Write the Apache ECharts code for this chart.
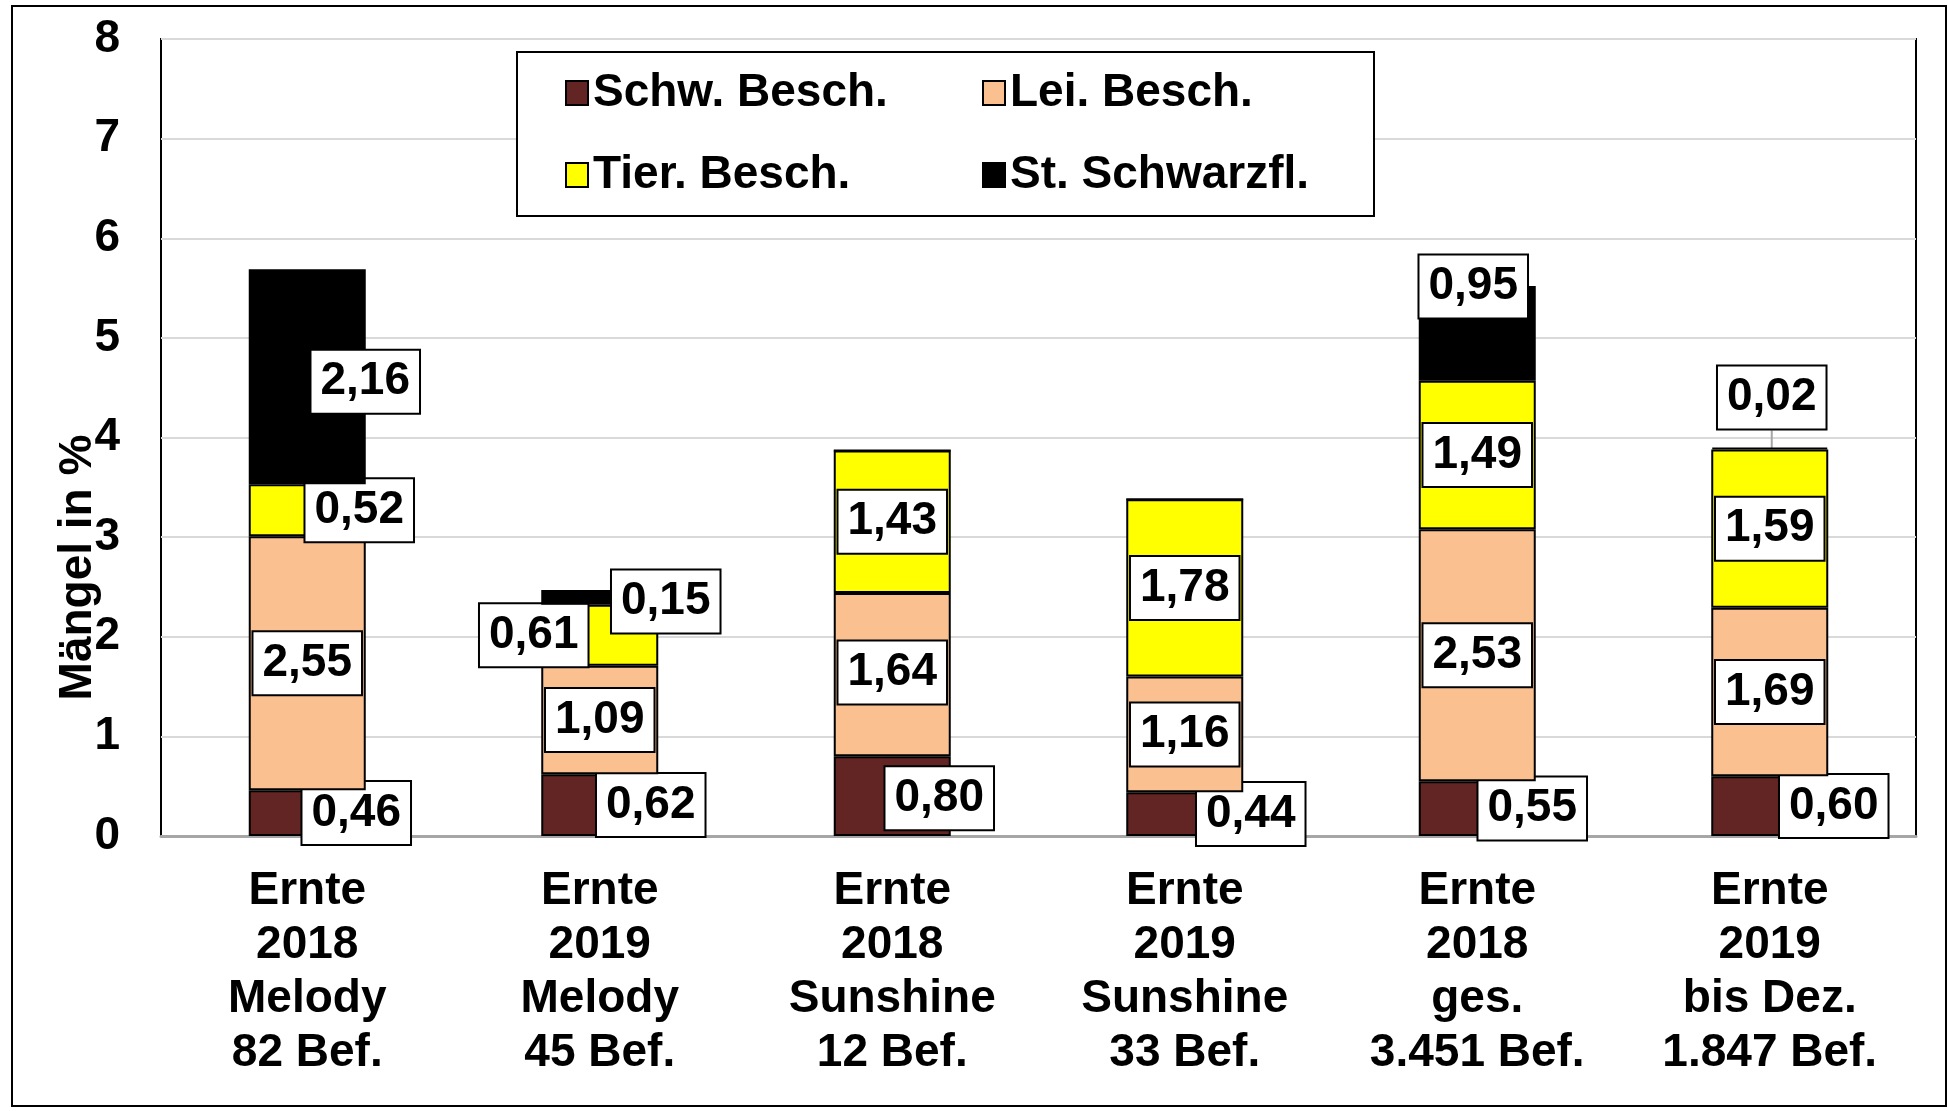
<!DOCTYPE html>
<html>
<head>
<meta charset="utf-8">
<title>Mängel in %</title>
<script src="https://cdn.jsdelivr.net/npm/echarts@6/dist/echarts.min.js"></script>
<style>
  html, body { margin: 0; padding: 0; background: #ffffff; }
  #chart { width: 1948px; height: 1111px; }
  /* äußerer Diagrammrahmen */
  #frame {
    position: absolute; left: 11px; top: 5px; width: 1936px; height: 1102px;
    box-sizing: border-box; border: 2px solid #000; pointer-events: none;
  }
</style>
</head>
<body>
<div id="chart"></div>
<div id="frame"></div>
<script>
  /* Kategorien (Ernte / Sorte / Anzahl Befunde) */
  var categories = [
    "Ernte\n2018\nMelody\n82 Bef.",
    "Ernte\n2019\nMelody\n45 Bef.",
    "Ernte\n2018\nSunshine\n12 Bef.",
    "Ernte\n2019\nSunshine\n33 Bef.",
    "Ernte\n2018\nges.\n3.451 Bef.",
    "Ernte\n2019\nbis Dez.\n1.847 Bef."
  ];

  /* Mängel in % je Schadensart */
  var schwBesch   = [0.46, 0.62, 0.80, 0.44, 0.55, 0.60];
  var leiBesch    = [2.55, 1.09, 1.64, 1.16, 2.53, 1.69];
  var tierBesch   = [0.52, 0.61, 1.43, 1.78, 1.49, 1.59];
  var stSchwarzfl = [2.16, 0.15, 0, 0, 0.95, 0.02];

  var seriesNames = ["Schw. Besch.", "Lei. Besch.", "Tier. Besch.", "St. Schwarzfl."];

  var yMin = 0, yMax = 8, yStep = 1;

  /* Farben wie im Excel-Original */
  var COLORS = ["#632523", "#FAC090", "#FFFF00", "#000000"];

  /* Verschiebung der Datenbeschriftungen (x, y in px), von Hand wie im Original */
  var LABEL_SHIFT = [
    [[49, 0], [51, 0], [47, 2], [66, 0], [55, 0], [64, 0]],
    [[0, 0], [0, 0], [0, -2], [0, 0], [0, 0], [0, 0]],
    [[52, 0], [-66, 0], [0, 0], [0, 0], [0, 0], [0, 0]],
    [[58, 5], [66, 4], [0, 0], [0, 0], [-4, -47], [2, -51]]
  ];

  var FONT = "'Liberation Sans', Arial, sans-serif";

  function fmt(v) {
    return v.toFixed(2).replace(".", ",");
  }

  function buildSeries(idx, values, useLayout) {
    var data = [];
    for (var i = 0; i < values.length; i++) {
      var item = { value: values[i], label: {} };
      if (!useLayout) { item.label.offset = LABEL_SHIFT[idx][i]; }
      if (values[i] === 0) { item.label.show = false; }
      data.push(item);
    }
    var s = {
      name: seriesNames[idx],
      type: "bar",
      stack: "maengel",
      barWidth: "40%",
      z: 2 + idx,
      itemStyle: { color: COLORS[idx], borderColor: "#000", borderWidth: 2 },
      label: {
        show: true,
        position: "inside",
        formatter: function (p) { return fmt(p.value); },
        fontFamily: FONT,
        fontSize: 46,
        fontWeight: "bold",
        color: "#000",
        lineHeight: 46,
        backgroundColor: "#fff",
        borderColor: "#000",
        borderWidth: 2,
        padding: [8, 9, 8, 9]
      },
      emphasis: { disabled: true },
      data: data
    };
    if (useLayout) {
      /* Verschiebung über labelLayout, damit die Führungslinie gezeichnet wird */
      s.labelLayout = function (p) {
        var d = LABEL_SHIFT[idx][p.dataIndex];
        return { dx: d[0], dy: d[1] };
      };
    }
    return s;
  }

  var series = [
    buildSeries(0, schwBesch, false),
    buildSeries(1, leiBesch, false),
    buildSeries(2, tierBesch, false),
    buildSeries(3, stSchwarzfl, true)
  ];

  /* 0,02 sitzt über dem Balken, mit grauer Führungslinie */
  series[3].data[5].labelLine = {
    show: true,
    lineStyle: { color: "#a6a6a6", width: 2 }
  };

  var chart = echarts.init(document.getElementById("chart"));

  chart.setOption({
    animation: false,
    backgroundColor: "#fff",
    textStyle: { fontFamily: FONT },
    grid: {
      left: 161, top: 39, right: 32, bottom: 275,
      show: true, borderColor: "#000", borderWidth: 2
    },
    legend: {
      left: 517,
      top: 52,
      width: 800,
      orient: "horizontal",
      padding: [18, 11, 18, 48],
      borderColor: "#000",
      borderWidth: 2,
      backgroundColor: "#fff",
      itemWidth: 22,
      itemHeight: 24,
      itemGap: 36,
      icon: "rect",
      data: seriesNames,
      textStyle: {
        fontFamily: FONT,
        fontSize: 46,
        fontWeight: "bold",
        color: "#000",
        lineHeight: 46,
        width: 353
      }
    },
    xAxis: {
      type: "category",
      data: categories,
      axisTick: { show: false },
      axisLine: { lineStyle: { color: "#a6a6a6", width: 3 } },
      axisLabel: {
        interval: 0,
        margin: 28,
        fontFamily: FONT,
        fontSize: 46,
        fontWeight: "bold",
        lineHeight: 54,
        color: "#000"
      }
    },
    yAxis: {
      type: "value",
      min: yMin,
      max: yMax,
      interval: yStep,
      name: "Mängel in %",
      nameLocation: "middle",
      nameGap: 60,
      nameMoveOverlap: false,
      nameRotate: 90,
      nameTextStyle: {
        fontFamily: FONT,
        fontSize: 46,
        fontWeight: "bold",
        color: "#000",
        padding: [0, 260, 0, 0]
      },
      axisLine: { show: false },
      axisTick: { show: false },
      splitLine: { lineStyle: { color: "#d9d9d9", width: 2 } },
      axisLabel: {
        margin: 41,
        fontFamily: FONT,
        fontSize: 46,
        fontWeight: "bold",
        color: "#000"
      }
    },
    series: series
  });
</script>
</body>
</html>
